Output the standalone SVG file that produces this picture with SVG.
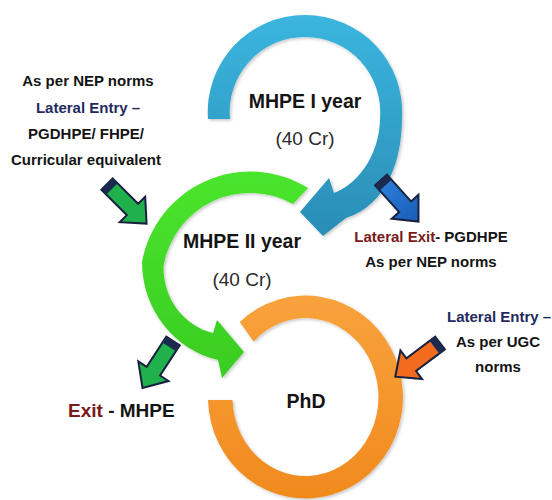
<svg xmlns="http://www.w3.org/2000/svg" width="552" height="500" viewBox="0 0 552 500">
  <defs>
    <linearGradient id="gBlue" x1="0" y1="0" x2="0" y2="1">
      <stop offset="0" stop-color="#3bb6df"/>
      <stop offset="1" stop-color="#2a8db6"/>
    </linearGradient>
    <linearGradient id="gGreen" x1="0" y1="0" x2="0" y2="1">
      <stop offset="0" stop-color="#4ae52d"/>
      <stop offset="1" stop-color="#3acc22"/>
    </linearGradient>
    <linearGradient id="gOrange" x1="0" y1="0" x2="0" y2="1">
      <stop offset="0" stop-color="#f9a23c"/>
      <stop offset="1" stop-color="#f08a1e"/>
    </linearGradient>
    <linearGradient id="gArrBlue" x1="0" y1="0" x2="1" y2="0">
      <stop offset="0" stop-color="#2a80dc"/>
      <stop offset="1" stop-color="#1a5cb6"/>
    </linearGradient>
    <filter id="sh" x="-10%" y="-10%" width="120%" height="120%">
      <feDropShadow dx="1.5" dy="1.5" stdDeviation="1.5" flood-color="#000" flood-opacity="0.22"/>
    </filter>
    <path id="blk" d="M0,-8 L36,-8 L36,-18 L56,0 L36,18 L36,8 L0,8 Z"/>
    <path id="cap" d="M0,-8 L7,-8 L7,8 L0,8 Z"/>
  </defs>
  <style>
    text { font-family: "Liberation Sans", Arial, sans-serif; fill: #141414; }
    .big { font-size: 19.5px; font-weight: bold; }
    .cr { font-size: 19px; font-weight: normal; fill: #2a2a2a; }
    .side { font-size: 15px; font-weight: bold; }
    .navy { fill: #1f2a5e; }
    .red { fill: #7a1a1a; }
    .arr { stroke: #18223f; stroke-width: 2; stroke-linejoin: miter; }
    .cap { fill: #1b2a4e; }
  </style>

  <rect x="0" y="0" width="552" height="500" fill="#ffffff"/>

  <g id="node-phd">
    <path filter="url(#sh)" fill="url(#gOrange)" d="M239.8,322 A97.5,101.5 0 1 1 208,400 L232.5,400 A73,79 0 1 0 253.6,341.5 Z"/>
    <text class="big" x="306" y="408" text-anchor="middle">PhD</text>
  </g>

  <g id="node-mhpe2">
    <path filter="url(#sh)" fill="url(#gGreen)" d="M308,188 A110,110 0 0 0 142,262 C142,310 175,350 218,360 L222,378 L244,352 L217,320 L213,333 C185,326 163,300 163.5,266 A88,88 0 0 1 293,204 Z"/>
    <text class="big" x="242" y="248" text-anchor="middle">MHPE II year</text>
    <text class="cr" x="242" y="286" text-anchor="middle">(40 Cr)</text>
  </g>

  <g id="node-mhpe1">
    <path filter="url(#sh)" fill="url(#gBlue)" d="M208,119 A97,97 0 0 1 305,15 A97,97 0 0 1 402,118 C402,160 387,205 346,218 L323,236 L300,212 L329,178 L334,193 C362,182 380,150 380,118 A75,75 0 0 0 305,37 A75,75 0 0 0 230,119 Z"/>
    <text class="big" x="305" y="108" text-anchor="middle">MHPE I year</text>
    <text class="cr" x="305" y="145" text-anchor="middle">(40 Cr)</text>
  </g>

  <g id="connectors">
    <g id="arrow-entry-mhpe2" transform="translate(107,184) rotate(45)">
      <use href="#blk" class="arr" fill="#20b04c"/>
      <use href="#cap" class="cap"/>
    </g>
    <g id="arrow-exit-pgdhpe" transform="translate(381,180) rotate(48)">
      <use href="#blk" class="arr" fill="url(#gArrBlue)"/>
      <use href="#cap" class="cap"/>
    </g>
    <g id="arrow-exit-mhpe" transform="translate(173,341) rotate(123)">
      <use href="#blk" class="arr" fill="#20b04c"/>
      <use href="#cap" class="cap"/>
    </g>
    <g id="arrow-entry-phd" transform="translate(440,343) rotate(143)">
      <use href="#blk" class="arr" fill="#f36b1c"/>
      <use href="#cap" class="cap"/>
    </g>
  </g>

  <g id="label-entry-left">
    <text class="side" x="88" y="86" text-anchor="middle">As per NEP norms</text>
    <text class="side navy" x="88" y="113" text-anchor="middle">Lateral Entry –</text>
    <text class="side" x="86" y="139" text-anchor="middle">PGDHPE/ FHPE/</text>
    <text class="side" x="86" y="165" text-anchor="middle">Curricular equivalent</text>
  </g>

  <g id="label-exit-right">
    <text class="side" x="431" y="242" text-anchor="middle"><tspan class="red">Lateral Exit</tspan>- PGDHPE</text>
    <text class="side" x="431" y="267" text-anchor="middle">As per NEP norms</text>
  </g>

  <g id="label-entry-right">
    <text class="side navy" x="447" y="322">Lateral Entry –</text>
    <text class="side" x="498" y="347" text-anchor="middle">As per UGC</text>
    <text class="side" x="498" y="372" text-anchor="middle">norms</text>
  </g>

  <g id="label-exit-bottom">
    <text class="big" x="68" y="417" style="font-size:19px"><tspan class="red">Exit</tspan> - MHPE</text>
  </g>
</svg>
